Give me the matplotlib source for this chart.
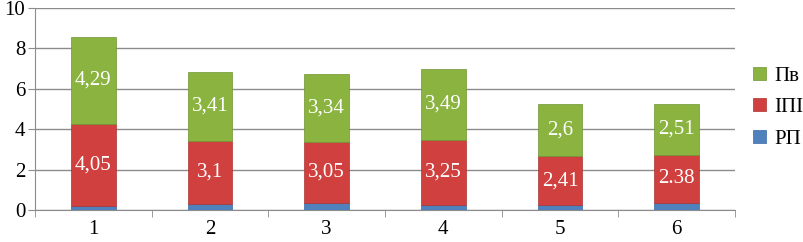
import matplotlib
matplotlib.use("Agg")
import matplotlib.pyplot as plt
from matplotlib.font_manager import FontProperties
import numpy as np

categories = ["1", "2", "3", "4", "5", "6"]
rp = [0.22, 0.32, 0.34, 0.24, 0.24, 0.36]
ipi = [4.05, 3.1, 3.05, 3.25, 2.41, 2.38]
pv = [4.29, 3.41, 3.34, 3.49, 2.6, 2.51]
ipi_labels = ["4,05", "3,1", "3,05", "3,25", "2,41", "2.38"]
pv_labels = ["4,29", "3,41", "3,34", "3,49", "2,6", "2,51"]
series_names = ["Пв", "ІПІ", "РП"]

FONT_FILE = "/usr/share/fonts/truetype/liberation/LiberationSerif-Regular.ttf"
plt.rcParams['font.family'] = ['Liberation Serif', 'DejaVu Serif']
fp = FontProperties(fname=FONT_FILE, size=15)

fig = plt.figure(figsize=(8.04, 2.42), dpi=100)
ax = fig.add_axes([35/804, 32/242, 700/804, 202/242])

x = np.arange(len(categories))
w = 0.385
blue = "#4F81BD"
red = "#D0403E"
green = "#8AB43F"
ax.bar(x, rp, w, color=blue, edgecolor="#3A6AA8", linewidth=0.5, zorder=3, label=series_names[2])
ax.bar(x, ipi, w, bottom=rp, color=red, edgecolor="#A83432", linewidth=0.5, zorder=3, label=series_names[1])
bottom2 = np.array(rp) + np.array(ipi)
ax.bar(x, pv, w, bottom=bottom2, color=green, edgecolor="#6E9530", linewidth=0.5, zorder=3, label=series_names[0])

for i in range(len(x)):
    ax.text(x[i], rp[i] + ipi[i] / 2, ipi_labels[i], ha="center", va="center",
            color="white", fontproperties=fp, zorder=4)
    ax.text(x[i], bottom2[i] + pv[i] / 2, pv_labels[i], ha="center", va="center",
            color="white", fontproperties=fp, zorder=4)

ax.set_xlim(-0.5, len(x) - 0.5)
ax.set_ylim(0, 10)
ax.set_yticks(range(0, 11, 2))
ax.yaxis.grid(True, color="#8C8C8C", linewidth=1)
ax.set_axisbelow(True)
ax.set_xticks(x)
ax.set_xticklabels(categories, fontproperties=fp)
ax.set_yticklabels([str(v) for v in range(0, 11, 2)], fontproperties=fp)
ax.set_xticks(np.arange(-0.5, len(x), 1), minor=True)
ax.tick_params(axis="x", which="major", length=0, pad=7)
ax.tick_params(axis="x", which="minor", length=5, color="#8C8C8C", direction="out")
ax.tick_params(axis="y", length=5, color="#8C8C8C", pad=2)
for s in ["top", "right"]:
    ax.spines[s].set_visible(False)
for s in ["left", "bottom"]:
    ax.spines[s].set_color("#8C8C8C")

h, l = ax.get_legend_handles_labels()
leg = fig.legend(h[::-1], l[::-1], loc="center left", bbox_to_anchor=(745/804, 0.555),
                 frameon=False, prop=fp, handlelength=0.6, handleheight=0.6,
                 handletextpad=0.4, labelspacing=0.6, borderaxespad=0)

fig.savefig("out.png", dpi=100)
